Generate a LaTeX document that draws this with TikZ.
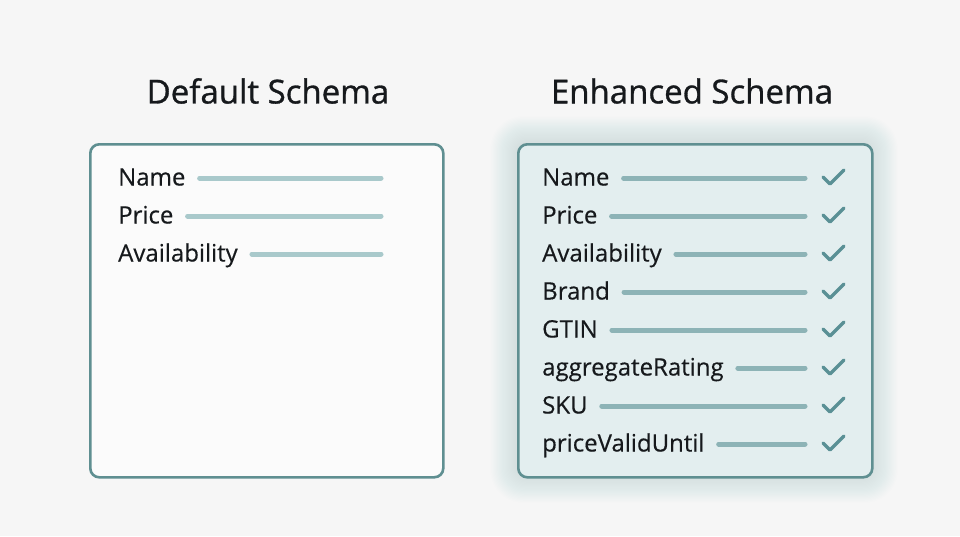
\documentclass[tikz,border=0pt]{standalone}
\usepackage{fontspec}
\setmainfont{Open Sans}
\definecolor{bg}{HTML}{F6F6F6}
\definecolor{frame}{HTML}{5F8F91}
\definecolor{lightline}{HTML}{A9C9CB}
\definecolor{darkline}{HTML}{8DB3B6}
\definecolor{tick}{HTML}{5A9095}
\definecolor{panel}{HTML}{E3EEEF}
\definecolor{glow}{HTML}{B8D8DA}
\definecolor{ink}{HTML}{16191C}
\tikzset{
  title/.style={font=\fontsize{33}{36}\selectfont\addfontfeatures{FakeBold=0.9}, text=ink, inner sep=0pt},
  field/.style={font=\fontsize{24}{27}\selectfont\addfontfeatures{FakeBold=0.4}, text=ink, anchor=base west, inner sep=0pt},
  bar/.style={line width=5pt, line cap=round},
  lbar/.style={bar, draw=lightline},
  dbar/.style={bar, draw=darkline},
  checkmark/.style={draw=tick, line width=3.4pt, line cap=round, line join=round},
  box/.style={draw=frame, line width=2.6pt, rounded corners=9pt},
}
\begin{document}
\begin{tikzpicture}[x=1pt,y=-1pt]
\useasboundingbox (0,0) rectangle (960,536);
\fill[bg] (0,0) rectangle (960,536);
% titles
\node[title] (t1) at (268,91) {Default Schema};
\node[title] (t2) at (692,91) {Enhanced Schema};
% left box
\node[box, fill=white!60!bg, minimum width=353pt, minimum height=333pt, anchor=north west] (L) at (89,143) {};
% glow for right box
\foreach \i in {1,...,22}{
  \fill[glow, opacity=0.025, rounded corners=10pt+\i*1pt] (517-1.2*\i,143-1.2*\i) rectangle (871+1.2*\i,476+1.2*\i);
}
\node[box, fill=panel, minimum width=354pt, minimum height=333pt, anchor=north west] (R) at (517,143) {};
% left fields
\foreach \t/\y/\n in {Name/177/a,Price/215/b,Availability/253/c}{
  \node[field] (l\n) at (118,\y+8.5) {\t};
  \coordinate (le\n) at (381,\y+1);
  \draw[lbar] (l\n.east |- le\n) ++(14,0) -- (le\n);
}
% right fields
\foreach \t/\y/\n in {Name/177/a,Price/215/b,Availability/253/c,Brand/291/d,GTIN/329/e,aggregateRating/367/f,SKU/405/g,priceValidUntil/443/h}{
  \node[field] (r\n) at (542,\y+8.5) {\t};
  \coordinate (re\n) at (805,\y+1);
  \draw[dbar] (r\n.east |- re\n) ++(14,0) -- (re\n);
  \coordinate (ca\n) at (823,\y+0);
  \coordinate (cb\n) at (830,\y+7);
  \coordinate (cc\n) at (844,\y-7);
  \draw[checkmark] (ca\n) -- (cb\n) -- (cc\n);
}
\end{tikzpicture}
\end{document}
